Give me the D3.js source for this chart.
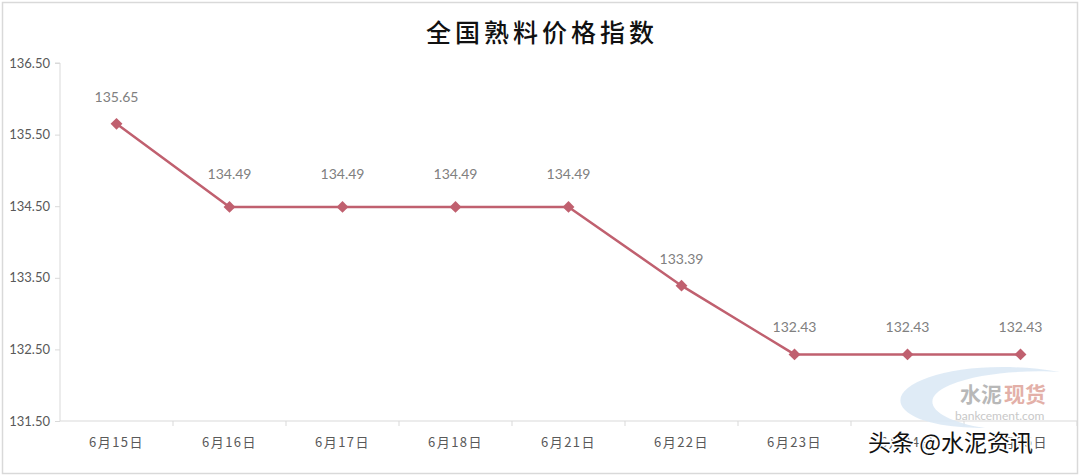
<!DOCTYPE html>
<html><head><meta charset="utf-8">
<script src="https://cdn.jsdelivr.net/npm/d3@7/dist/d3.min.js"></script>
<style>body{margin:0;background:#fff}svg{display:block}</style>
</head><body>
<svg id="c" width="1080" height="476"></svg>
<script>
const categories = ["6月15日","6月16日","6月17日","6月18日","6月21日","6月22日","6月23日","6月24日","6月25日"];
const values = [135.65,134.49,134.49,134.49,134.49,133.39,132.43,132.43,132.43];
const yTicks = [131.5,132.5,133.5,134.5,135.5,136.5];
const title = "全国熟料价格指数";

const svg = d3.select("#c");
const W=1080,H=476;
const m={l:60,r:1077,t:63,b:421};
svg.append("rect").attr("x",2.5).attr("y",2.5).attr("width",W-5).attr("height",H-5)
  .attr("fill","#fff").attr("stroke","#d9d9d9").attr("stroke-width",1.5);

svg.append("text").attr("x",542).attr("y",42).attr("text-anchor","middle")
  .attr("font-family","'Noto Sans CJK SC'").attr("font-weight",500).attr("font-size",25)
  .attr("letter-spacing",4).attr("fill","#111").text(title);

const x=d3.scaleBand().domain(categories).range([m.l,m.r]).padding(0);
const y=d3.scaleLinear().domain([131.5,136.5]).range([m.b,m.t]);

const ya=svg.append("g").attr("transform",`translate(${m.l},0)`)
  .call(d3.axisLeft(y).tickValues(yTicks).tickFormat(d3.format(".2f")).tickSize(5).tickPadding(5));
ya.select(".domain").attr("stroke","#d9d9d9").attr("d",`M-5,${m.t}H0V${m.b}`);
ya.selectAll(".tick line").attr("stroke","#d9d9d9");
ya.selectAll(".tick text").attr("font-family","Lato").attr("font-size",13).attr("fill","#595959");

const xa=svg.append("g").attr("transform",`translate(0,${m.b})`)
  .call(d3.axisBottom(x).tickSize(0).tickPadding(17));
xa.select(".domain").attr("stroke","#d9d9d9").attr("d",`M${m.l},0H${m.r}`);
xa.selectAll(".tick text").attr("font-family","'Noto Sans CJK SC'").attr("font-size",13)
  .attr("letter-spacing",1.5).attr("fill","#595959");
// category boundary ticks
svg.append("g").selectAll("line").data(categories).join("line")
  .attr("x1",(d,i)=>x(d)+x.bandwidth()).attr("x2",(d,i)=>x(d)+x.bandwidth())
  .attr("y1",m.b).attr("y2",m.b+5).attr("stroke","#d9d9d9");

const col="#c0606f";
const line=d3.line().x((d,i)=>x(categories[i])+x.bandwidth()/2).y(d=>y(d));
svg.append("path").datum(values).attr("d",line).attr("fill","none").attr("stroke",col).attr("stroke-width",2.5);
svg.append("g").selectAll("path").data(values).join("path")
  .attr("d",d3.symbol().type(d3.symbolDiamond2).size(90))
  .attr("transform",(d,i)=>`translate(${x(categories[i])+x.bandwidth()/2},${y(d)})`)
  .attr("fill",col);
svg.append("g").selectAll("text").data(values).join("text")
  .attr("x",(d,i)=>x(categories[i])+x.bandwidth()/2)
  .attr("y",(d,i)=>y(d)-(d===134.49?28:22))
  .attr("text-anchor","middle").attr("font-family","Lato").attr("font-size",14).attr("fill","#808080")
  .text(d=>d3.format(".2f")(d));

// watermark logo
const wm=svg.append("g");
wm.append("path").attr("d","M1060,372 C960,355 880,385 905,410 C920,425 960,428 985,428 C935,420 915,400 950,385 C980,372 1030,370 1060,372Z")
  .attr("fill","#dce9f5").attr("opacity",0.9);
wm.append("text").attr("x",960).attr("y",402).attr("font-family","'Noto Sans CJK SC'").attr("font-weight",700)
  .attr("font-size",21).attr("fill","#b8b8b8").text("水泥");
wm.append("text").attr("x",1004).attr("y",402).attr("font-family","'Noto Sans CJK SC'").attr("font-weight",700)
  .attr("font-size",21).attr("fill","#e3b0a8").text("现货");
wm.append("text").attr("x",955).attr("y",420).attr("font-family","Lato").attr("font-size",12)
  .attr("fill","#c8c8c8").text("bankcement.com");
wm.append("text").attr("x",868).attr("y",451).attr("font-family","'Noto Sans CJK SC'").attr("font-size",23)
  .attr("fill","#111").attr("stroke","#fff").attr("stroke-width",3).attr("paint-order","stroke").text("头条 @水泥资讯");
</script>
</body></html>
